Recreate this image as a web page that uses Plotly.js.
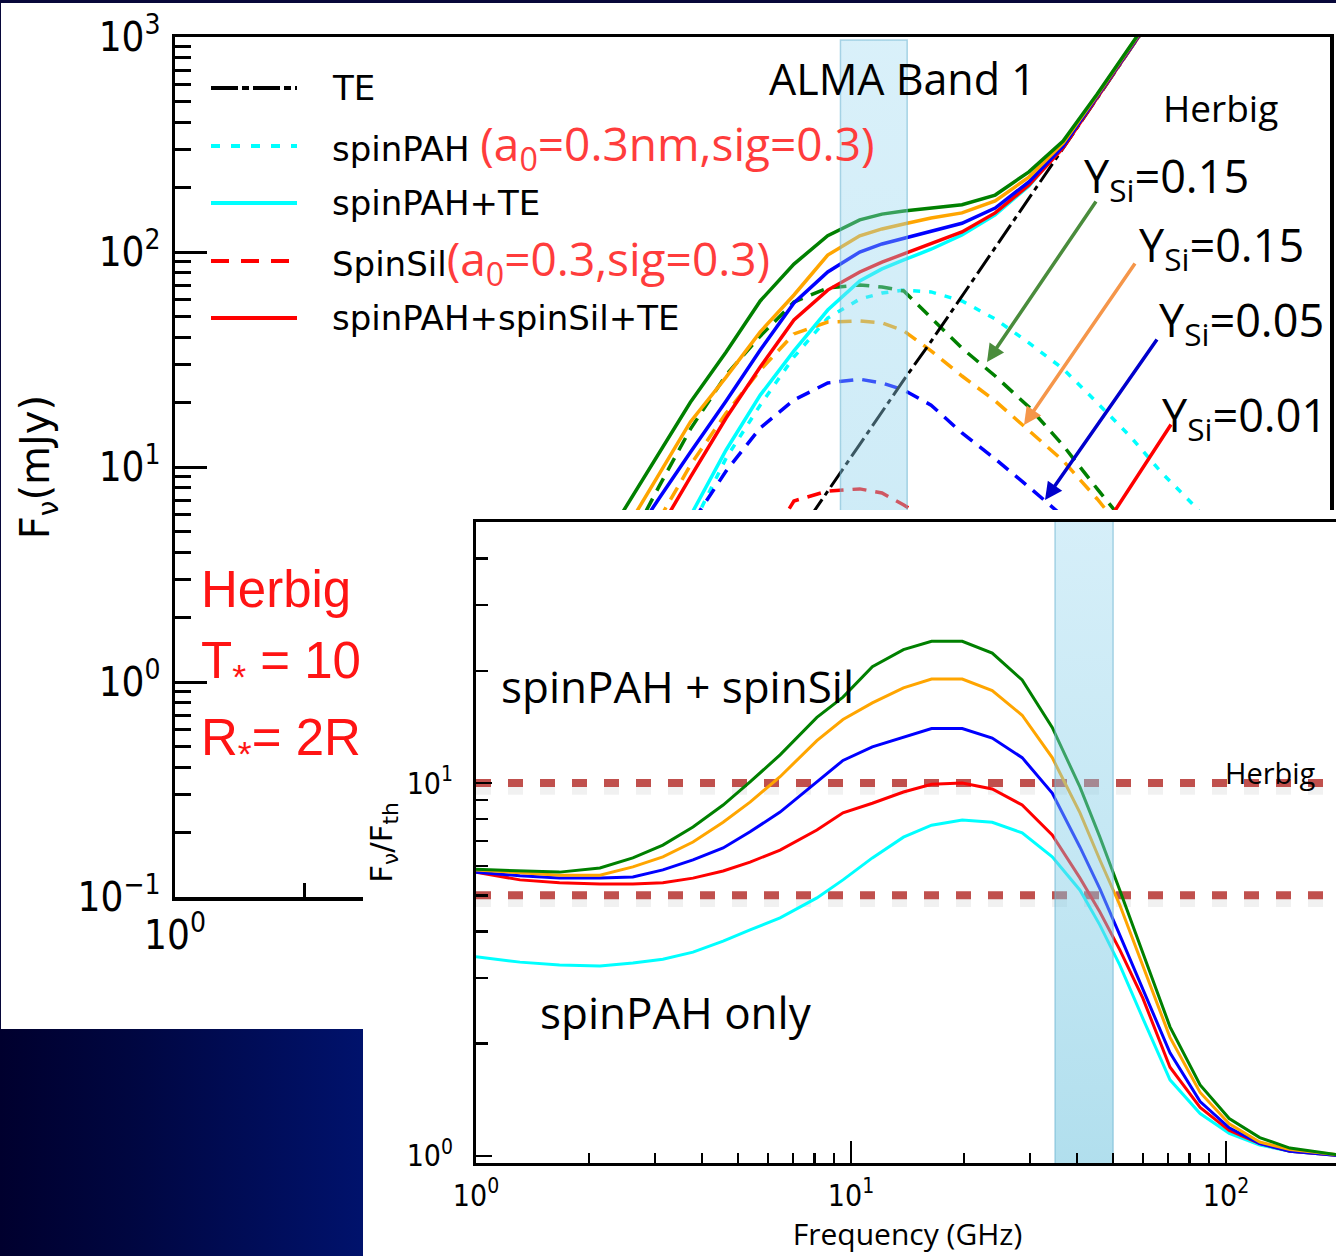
<!DOCTYPE html>
<html><head><meta charset="utf-8">
<script src="https://cdn.plot.ly/plotly-3.0.1.min.js"></script>
<style>
html,body{margin:0;padding:0;width:1336px;height:1256px;overflow:hidden;background:#07073a;}
#main{position:absolute;left:1px;top:3px;width:1335px;height:1026px;background:#fff;}
#navy{position:absolute;left:0;top:1029px;width:363px;height:227px;background:linear-gradient(90deg,#00002e 0%,#000640 35%,#00126c 100%);}
#inset{position:absolute;left:363px;top:510px;width:980px;height:746px;background:#fff;}
</style></head>
<body>
<div id="main"></div><div id="navy"></div><div id="inset"></div>
<script>
// ---------------- main chart data (frequency in GHz, flux in mJy) ----------------
const mainFreq = [7.78, 9.23, 11.0, 13.3, 15.7, 19.0, 22.8, 27.3, 32.7, 38.8, 43.7, 49.1, 56.8, 67.0, 80.0, 95.8, 115, 138, 165, 195, 231, 277];
const teFlux = [0.115, 0.190, 0.320, 0.556, 0.914, 1.57, 2.68, 4.53, 7.74, 12.7, 17.9, 25.4, 38.4, 62.2, 104, 178, 304, 518, 881, 1419, 2350, 3981];
const spinPahFlux = [0.302, 0.598, 1.21, 2.62, 5.09, 11.0, 19.4, 32.5, 49.3, 60.4, 64.4, 66.5, 65.2, 59.2, 48.8, 37.8, 28.6, 19.9, 13.8, 9.38, 6.65, 4.34];
const spinPahTeFlux = [0.398, 0.766, 1.50, 3.15, 5.92, 12.0, 21.6, 34.7, 53.7, 73.3, 83.4, 91.8, 103, 120, 149, 203, 313, 525, 883, 1432, 2377, 3855];
const spinSilGreen = [1.10, 2.07, 3.98, 8.17, 15.0, 26.8, 40.6, 58.5, 68.1, 70.3, 68.7, 65.9, 49.3, 35.7, 26.5, 19.0, 12.6, 7.91, 5.09, 3.32, 2.16, 1.41];
const spinSilOrange = [0.817, 1.52, 2.86, 5.73, 10.2, 17.8, 28.2, 41.6, 47.2, 47.8, 46.8, 43.0, 34.7, 26.5, 20.3, 14.7, 10.7, 7.10, 4.57, 2.98, 1.94, 1.26];
const spinSilBlue = [0.573, 0.989, 1.75, 3.32, 5.37, 9.57, 15.2, 20.5, 24.6, 25.6, 24.6, 22.8, 19.4, 14.4, 10.9, 8.07, 5.92, 4.30, 3.11, 2.28, 1.66, 1.20];
const spinSilRed = [0.120, 0.209, 0.369, 0.687, 1.17, 2.14, 3.85, 6.95, 7.73, 7.91, 7.57, 6.65, 5.55, 4.34, 3.15, 2.28, 1.66, 1.20, 0.871, 0.631, 0.457, 0.331];
const totalGreen = [2.04, 3.57, 6.31, 11.7, 20.0, 34.3, 59.2, 87.9, 119, 141, 150, 155, 160, 166, 184, 236, 328, 543, 912, 1479, 2455, 3981];
const totalOrange = [1.55, 2.74, 4.93, 9.38, 16.2, 26.2, 42.5, 63.1, 96.8, 119, 128, 135, 144, 152, 173, 223, 321, 537, 902, 1462, 2427, 3936];
const totalBlue = [1.41, 2.38, 4.03, 7.18, 11.7, 20.3, 35.0, 57.9, 80.7, 100, 109, 116, 125, 136, 160, 212, 311, 531, 891, 1445, 2399, 3890];
const totalRed = [0.824, 1.47, 2.68, 5.15, 8.97, 16.9, 29.2, 48.3, 66.5, 80.7, 89.7, 97.9, 109, 124, 152, 205, 305, 527, 887, 1439, 2388, 3873];

// ALMA band 1 (GHz)
const bandLow = 35, bandHigh = 50;
const mainBandTop = 968;

// ---------------- inset data (ratio F_nu / F_th) ----------------
const insetFreq = [1, 1.31, 1.67, 2.14, 2.62, 3.15, 3.79, 4.56, 5.38, 6.47, 8.11, 9.52, 11.4, 13.8, 16.4, 19.8, 23.8, 28.6, 34.4, 40.8, 46.1, 52.1, 60, 70.9, 85.3, 102, 123, 148, 196, 260];
const ratioGreen = [5.87, 5.81, 5.77, 5.92, 6.30, 6.82, 7.62, 8.73, 10.07, 11.9, 15.0, 17.0, 20.5, 22.8, 24.0, 24.0, 22.3, 18.9, 14.1, 9.75, 7.16, 5.16, 3.50, 2.22, 1.55, 1.26, 1.12, 1.05, 1.01, 1.00];
const ratioOrange = [5.85, 5.74, 5.66, 5.66, 5.96, 6.34, 6.95, 7.85, 8.89, 10.4, 13.0, 14.8, 16.4, 18.0, 19.0, 19.0, 17.7, 15.2, 11.7, 8.32, 6.22, 4.71, 3.23, 2.08, 1.48, 1.22, 1.09, 1.04, 1.01, 1.00];
const ratioBlue = [5.77, 5.64, 5.56, 5.56, 5.60, 5.85, 6.22, 6.70, 7.40, 8.36, 10.07, 11.5, 12.5, 13.3, 14.0, 14.0, 13.2, 11.7, 9.40, 6.73, 5.20, 3.91, 2.81, 1.89, 1.40, 1.19, 1.08, 1.03, 1.005, 1.00];
const ratioRed = [5.77, 5.50, 5.40, 5.36, 5.36, 5.40, 5.56, 5.81, 6.14, 6.61, 7.48, 8.32, 8.83, 9.46, 9.93, 10.0, 9.64, 8.73, 7.26, 5.56, 4.51, 3.57, 2.65, 1.73, 1.35, 1.17, 1.08, 1.03, 1.005, 1.00];
const ratioCyan = [3.42, 3.31, 3.25, 3.23, 3.29, 3.37, 3.52, 3.77, 4.04, 4.35, 4.92, 5.50, 6.30, 7.16, 7.71, 7.96, 7.85, 7.35, 6.34, 5.16, 4.16, 3.25, 2.34, 1.60, 1.30, 1.15, 1.07, 1.03, 1.005, 1.00];
const herbigLevels = [10, 5];
const levelSpan = [1, 300];

// tick labels
const mainYTicks = [0.1, 1, 10, 100, 1000];
const mainYText = ['10<sup>\u22121</sup>', '10<sup>0</sup>', '10<sup>1</sup>', '10<sup>2</sup>', '10<sup>3</sup>'];
const freqTicks = [1, 10, 100];
const freqText = ['10<sup>0</sup>', '10<sup>1</sup>', '10<sup>2</sup>'];
const ratioTicks = [1, 10];
const ratioText = ['10<sup>0</sup>', '10<sup>1</sup>'];

// ---------------- styles ----------------
const C = {green:'#008000', orange:'#FFA500', blue:'#0000FF', red:'#FF0000', cyan:'#00FFFF', black:'#000000'};
const CM = 'DejaVu Sans';
const NARROW = 'Liberation Sans Narrow, DejaVu Sans Condensed, DejaVu Sans';
const OS = 'Open Sans';

function ln(x, y, color, dash, width){
  return {type:'scatter', mode:'lines', x:x, y:y, line:{color:color, dash:dash||'solid', width:width||3.5, shape:'linear'}, hoverinfo:'skip', showlegend:false};
}
function band(top, bottom, cTop, cBot){
  return {type:'scatter', mode:'lines', x:[bandLow, bandHigh, bandHigh, bandLow, bandLow], y:[bottom, bottom, top, top, bottom],
    fill:'toself', fillcolor:'rgba(135,206,235,0.42)',
    fillgradient:{type:'vertical', colorscale:[[0, cBot],[1, cTop]]},
    line:{color:'rgba(110,180,210,0.55)', width:1.5}, hoverinfo:'skip', showlegend:false};
}

// ---------------- main chart ----------------
const mainL=175, mainR=1330, mainT=37, mainB=897;
function mp(px, py){ return {x:(px-mainL)/(mainR-mainL), y:(mainB-py)/(mainB-mainT)}; }
function txt(p, text, size, color, family, xanchor){
  return {x:p.x, y:p.y, xref:'paper', yref:'paper', text:text, showarrow:false, xanchor:xanchor||'center', yanchor:'middle',
    font:{size:size, color:color||'#000', family:family||OS}};
}
function arrow(tail, head, color){
  const h = mp(head[0], head[1]);
  return {x:h.x, y:h.y, xref:'paper', yref:'paper', ax:tail[0]-head[0], ay:tail[1]-head[1], axref:'pixel', ayref:'pixel',
    text:'', showarrow:true, arrowhead:2, arrowsize:1, arrowwidth:3.5, arrowcolor:color, standoff:0, startstandoff:0};
}

const dashSil = '14px,9px';
const dotPah = '7px,9px';
const dashTE = '22px,5px,5px,5px';

const mainTraces = [
  ln(mainFreq, spinPahFlux, C.cyan, dotPah, 3.5),
  ln(mainFreq, spinSilRed, C.red, dashSil, 3.5),
  ln(mainFreq, spinSilBlue, C.blue, dashSil, 3.5),
  ln(mainFreq, spinSilOrange, C.orange, dashSil, 3.5),
  ln(mainFreq, spinSilGreen, C.green, dashSil, 3.5),
  ln(mainFreq, teFlux, C.black, dashTE, 3),
  ln(mainFreq, spinPahTeFlux, C.cyan, 'solid', 3.5),
  ln(mainFreq, totalRed, C.red, 'solid', 3.5),
  ln(mainFreq, totalBlue, C.blue, 'solid', 3.5),
  ln(mainFreq, totalOrange, C.orange, 'solid', 3.5),
  ln(mainFreq, totalGreen, C.green, 'solid', 3.5),
  band(mainBandTop, 0.05, 'rgba(150,214,240,0.36)', 'rgba(130,204,232,0.48)')
];

const legendRows = [88, 146, 203, 261, 318];
const legendStyles = [
  {color:C.black, dash:'27px,4px,7px,4px'},
  {color:C.cyan, dash:'9px,11px'},
  {color:C.cyan, dash:'solid'},
  {color:C.red, dash:'18px,12px'},
  {color:C.red, dash:'solid'}
];
const redNote = (s) => '<span style="color:#ff3c3c;font-family:\'Open Sans\';font-size:46px">' + s + '</span>';
const legendTexts = [
  'TE',
  'spinPAH ' + redNote('(a<sub>0</sub>=0.3nm,sig=0.3)'),
  'spinPAH+TE',
  'SpinSil' + redNote('(a<sub>0</sub>=0.3,sig=0.3)'),
  'spinPAH+spinSil+TE'
];
const mainShapes = legendRows.map((ry, i) => {
  const a = mp(211, ry), b = mp(297, ry);
  return {type:'line', xref:'paper', yref:'paper', x0:a.x, x1:b.x, y0:a.y, y1:b.y, line:{color:legendStyles[i].color, dash:legendStyles[i].dash, width:4}};
});
const mainAnn = legendRows.map((ry, i) => txt(mp(330, ry), legendTexts[i], 34, '#000', CM, 'left'));
mainAnn.push(
  txt(mp(902, 78), 'ALMA Band 1', 43, '#000', OS),
  txt(mp(1220, 108), 'Herbig', 37, '#000', OS),
  txt(mp(1166, 178), 'Y<sub>Si</sub>=0.15', 45, '#000', OS),
  txt(mp(1221, 247), 'Y<sub>Si</sub>=0.15', 45, '#000', OS),
  txt(mp(1241, 322), 'Y<sub>Si</sub>=0.05', 45, '#000', OS),
  txt(mp(1244, 417), 'Y<sub>Si</sub>=0.01', 45, '#000', OS),
  arrow([1097, 200], [987, 362], '#4a8c3c'),
  arrow([1136, 262], [1024, 425], '#f5964a'),
  arrow([1158, 338], [1045, 500], '#0000cc'),
  arrow([1172, 423], [1060, 595], '#ff0000'),
  txt(mp(199, 589), 'Herbig', 51, '#ff1414', 'Liberation Sans', 'left'),
  txt(mp(199, 664), 'T<sub>*</sub> = 10', 51, '#ff1414', 'Liberation Sans', 'left'),
  txt(mp(199, 741), 'R<sub>*</sub>= 2R', 51, '#ff1414', 'Liberation Sans', 'left')
);

const mainLayout = {
  width:1335, height:1026, margin:{l:174, r:6, t:34, b:132},
  paper_bgcolor:'#ffffff', plot_bgcolor:'#ffffff', showlegend:false,
  xaxis:{type:'log', range:[0, 2.68], tickmode:'array', tickvals:freqTicks, ticktext:freqText,
    ticks:'inside', ticklen:30, tickwidth:3, tickcolor:'#000',
    minor:{ticks:'inside', ticklen:14, tickwidth:3, tickcolor:'#000', dtick:'D1', showgrid:false},
    showline:true, linewidth:3.5, linecolor:'#000', mirror:true, showgrid:false, zeroline:false,
    tickfont:{family:NARROW, size:40, color:'#000'}, ticklabelstandoff:0},
  yaxis:{type:'log', range:[-1, 3], tickmode:'array', tickvals:mainYTicks, ticktext:mainYText,
    ticks:'inside', ticklen:32, tickwidth:3, tickcolor:'#000',
    minor:{ticks:'inside', ticklen:16, tickwidth:3, tickcolor:'#000', dtick:'D1', showgrid:false},
    showline:true, linewidth:3.5, linecolor:'#000', mirror:true, showgrid:false, zeroline:false,
    tickfont:{family:NARROW, size:40, color:'#000'}, ticklabelstandoff:3,
    title:{text:'F<sub>\u03bd</sub>(mJy)', font:{family:CM, size:40, color:'#000'}, standoff:16}},
  shapes:mainShapes, annotations:mainAnn
};

Plotly.newPlot('main', mainTraces, mainLayout, {staticPlot:true, displayModeBar:false});

// ---------------- inset chart ----------------
const inL=476, inR=1339, inT=522, inB=1163;
function ip(px, py){ return {x:(px-inL)/(inR-inL), y:(inB-py)/(inB-inT)}; }

const insetTraces = [];
herbigLevels.forEach(v => {
  insetTraces.push(ln(levelSpan, [v*0.965, v*0.965], 'rgba(0,0,0,0.055)', '15px,17px', 12));
});
herbigLevels.forEach(v => {
  insetTraces.push(ln(levelSpan, [v, v], '#C0504D', '15px,17px', 8));
});
insetTraces.push(
  ln(insetFreq, ratioCyan, C.cyan, 'solid', 3),
  ln(insetFreq, ratioRed, C.red, 'solid', 3),
  ln(insetFreq, ratioBlue, C.blue, 'solid', 3),
  ln(insetFreq, ratioOrange, C.orange, 'solid', 3),
  ln(insetFreq, ratioGreen, C.green, 'solid', 3),
  band(80, 0.8, 'rgba(150,214,240,0.36)', 'rgba(110,195,222,0.55)')
);

const insetLayout = {
  width:980, height:746, margin:{l:113, r:4, t:12, b:93},
  paper_bgcolor:'#ffffff', plot_bgcolor:'#ffffff', showlegend:false,
  xaxis:{type:'log', range:[0, 2.3013], tickmode:'array', tickvals:freqTicks, ticktext:freqText,
    ticks:'inside', ticklen:22, tickwidth:2.5, tickcolor:'#000',
    minor:{ticks:'inside', ticklen:10, tickwidth:2.5, tickcolor:'#000', dtick:'D1', showgrid:false},
    showline:true, linewidth:3, linecolor:'#000', mirror:true, showgrid:false, zeroline:false,
    tickfont:{family:NARROW, size:30, color:'#000'}, ticklabelstandoff:4,
    title:{text:'Frequency (GHz)', font:{family:OS, size:30, color:'#000'}, standoff:4}},
  yaxis:{type:'log', range:[-0.0188, 1.7], tickmode:'array', tickvals:ratioTicks, ticktext:ratioText,
    ticks:'inside', ticklen:16, tickwidth:2.5, tickcolor:'#000',
    minor:{ticks:'inside', ticklen:12, tickwidth:2.5, tickcolor:'#000', dtick:'D1', showgrid:false},
    showline:true, linewidth:3, linecolor:'#000', mirror:true, showgrid:false, zeroline:false,
    tickfont:{family:NARROW, size:30, color:'#000'}, ticklabelstandoff:14,
    title:{text:'F<sub>\u03bd</sub>/F<sub>th</sub>', font:{family:CM, size:31, color:'#000'}, standoff:14}},
  annotations:[
    txt(ip(677, 686), 'spinPAH + spinSil', 44, '#000', OS),
    txt(ip(676, 1012), 'spinPAH only', 44, '#000', OS),
    txt(ip(1270, 772), 'Herbig', 29, '#000', OS)
  ]
};

Plotly.newPlot('inset', insetTraces, insetLayout, {staticPlot:true, displayModeBar:false});
</script>
</body></html>
